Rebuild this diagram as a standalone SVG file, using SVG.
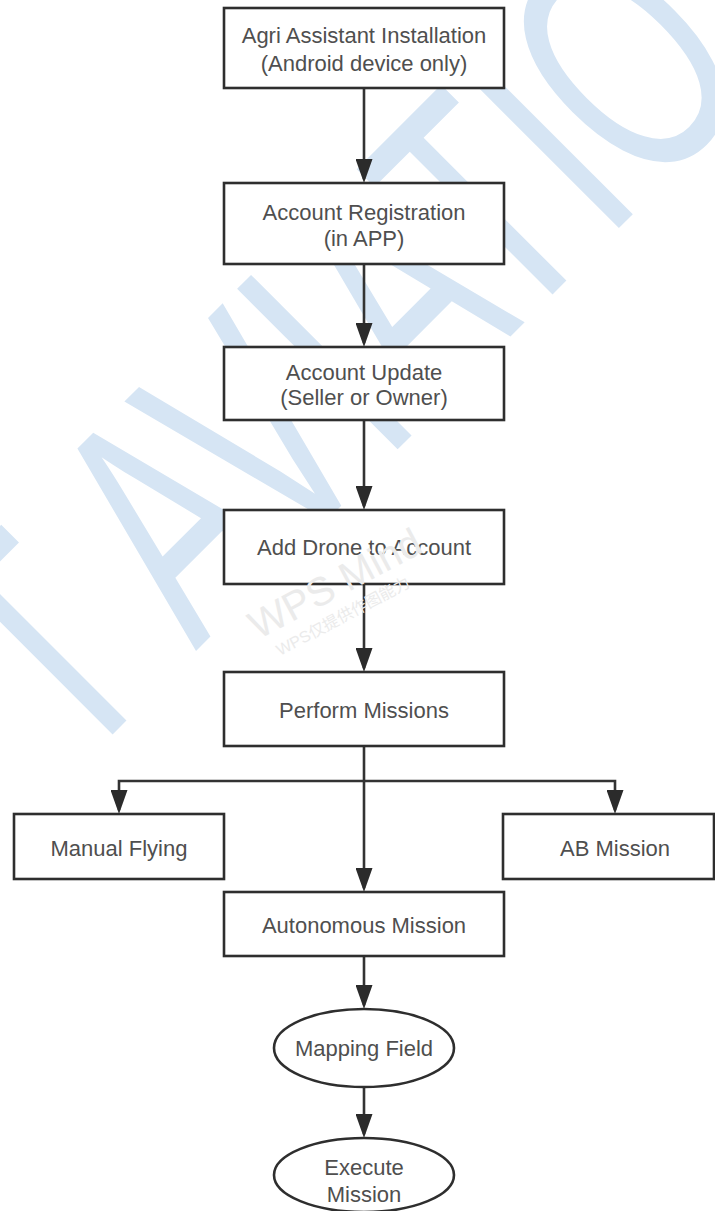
<svg xmlns="http://www.w3.org/2000/svg" width="715" height="1211" viewBox="0 0 715 1211">
<style>
.node rect,.node ellipse{fill:#ffffff;stroke:#2e2e2e;stroke-width:2.6}
.node text{font-family:"Liberation Sans",Arial,sans-serif;font-size:22px;fill:#4f4f4f;text-anchor:middle}
.edge{fill:none;stroke:#333333;stroke-width:2.6}
.wm{font-family:"Liberation Sans",Arial,sans-serif;fill:#d6e5f4}
.wps{font-family:"Liberation Sans","Noto Sans CJK SC",sans-serif;fill:#ebebeb}
</style>
<defs>
<marker id="arr" markerUnits="userSpaceOnUse" markerWidth="24" markerHeight="17" viewBox="0 0 24 17" refX="20" refY="8.5" orient="auto">
<path d="M0,0 L24,8.5 L0,17 Z" fill="#2b2b2b"/>
</marker>
</defs>
<rect x="0" y="0" width="715" height="1211" fill="#ffffff"/>
<g id="watermark">
<text class="wm" transform="translate(207,640) rotate(-45) scale(0.64,1)" x="-294" y="0" font-size="330">T AVIATIO</text>
</g>
<g id="connectors">
<path class="edge" d="M364,89 V179" marker-end="url(#arr)"/>
<path class="edge" d="M364,265 V343" marker-end="url(#arr)"/>
<path class="edge" d="M364,421 V506" marker-end="url(#arr)"/>
<path class="edge" d="M364,585 V668" marker-end="url(#arr)"/>
<path class="edge" d="M364,747 V888" marker-end="url(#arr)"/>
<path class="edge" d="M364,781 H119 V810" marker-end="url(#arr)"/>
<path class="edge" d="M364,781 H615 V810" marker-end="url(#arr)"/>
<path class="edge" d="M364,957 V1005" marker-end="url(#arr)"/>
<path class="edge" d="M364,1087 V1134" marker-end="url(#arr)"/>
</g>
<g id="n-install" class="node">
<rect x="224" y="8" width="280" height="80"/>
<text x="364" y="43">Agri Assistant Installation</text>
<text x="364" y="71">(Android device only)</text>
</g>
<g id="n-register" class="node">
<rect x="224" y="183" width="280" height="81"/>
<text x="364" y="220">Account Registration</text>
<text x="364" y="246">(in APP)</text>
</g>
<g id="n-update" class="node">
<rect x="224" y="347" width="280" height="73"/>
<text x="364" y="380">Account Update</text>
<text x="364" y="405">(Seller or Owner)</text>
</g>
<g id="n-drone" class="node">
<rect x="224" y="510" width="280" height="74"/>
<text x="364" y="555">Add Drone to Account</text>
</g>
<g id="n-perform" class="node">
<rect x="224" y="672" width="280" height="74"/>
<text x="364" y="718">Perform Missions</text>
</g>
<g id="n-manual" class="node">
<rect x="14" y="814" width="210" height="65"/>
<text x="119" y="856">Manual Flying</text>
</g>
<g id="n-ab" class="node">
<rect x="503" y="814" width="211" height="65"/>
<text x="615" y="856">AB Mission</text>
</g>
<g id="n-auto" class="node">
<rect x="224" y="892" width="280" height="64"/>
<text x="364" y="933">Autonomous Mission</text>
</g>
<g id="n-mapping" class="node">
<ellipse cx="364" cy="1048" rx="90" ry="39"/>
<text x="364" y="1056">Mapping Field</text>
</g>
<g id="n-execute" class="node">
<ellipse cx="364" cy="1175" rx="90" ry="37"/>
<text x="364" y="1175">Execute</text>
<text x="364" y="1202">Mission</text>
</g>
<g id="wps-watermark">
<text class="wps" transform="translate(258,640) rotate(-28)" font-size="40">WPS Mind</text>
<text class="wps" transform="translate(280,656) rotate(-28)" font-size="16">WPS仅提供作图能力</text>
</g>
</svg>
